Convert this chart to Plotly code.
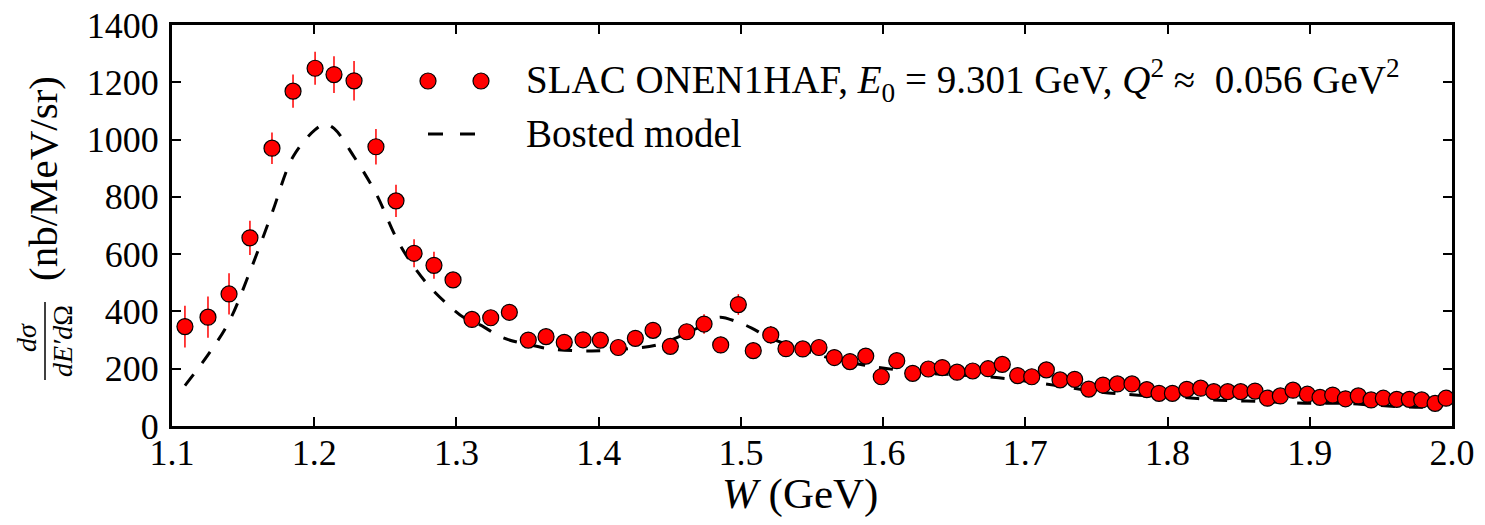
import plotly.graph_objects as go

# SLAC ONEN1HAF data
W_data = [1.1091, 1.1253, 1.1401, 1.1548, 1.1703, 1.1851, 1.2006, 1.2139, 1.2280, 1.2434,
          1.2575, 1.2702, 1.2842, 1.2976, 1.3109, 1.3241, 1.3372, 1.3505, 1.3630, 1.3758,
          1.3890, 1.4012, 1.4138, 1.4258, 1.4382, 1.4504, 1.4619, 1.4741, 1.4858, 1.4982,
          1.5087, 1.5210, 1.5317, 1.5435, 1.5549, 1.5657, 1.5767, 1.5878, 1.5987, 1.6096,
          1.6208, 1.6318, 1.6416, 1.6520, 1.6630, 1.6738, 1.6838, 1.6946, 1.7045, 1.7148,
          1.7244, 1.7347, 1.7446, 1.7546, 1.7647, 1.7750, 1.7854, 1.7940, 1.8034, 1.8135,
          1.8233, 1.8325, 1.8423, 1.8514, 1.8615, 1.8702, 1.8793, 1.8882, 1.8983, 1.9072,
          1.9161, 1.9251, 1.9341, 1.9431, 1.9517, 1.9611, 1.9700, 1.9787, 1.9881, 1.9958]
xs_data = [347, 380, 461, 657, 970, 1169, 1249, 1227, 1205, 975,
           786, 603, 561, 510, 372, 378, 397, 300, 312, 292,
           301, 300, 274, 306, 334, 278, 329, 356, 283, 424,
           263, 318, 270, 269, 274, 239, 225, 244, 172, 228,
           184, 199, 204, 188, 192, 200, 215, 176, 172, 196,
           161, 163, 129, 143, 147, 147, 127, 114, 114, 128,
           132, 120, 120, 120, 122, 97, 105, 125, 111, 100,
           108, 95, 105, 91, 97, 93, 93, 91, 79, 97]
err_data = [73, 72, 72, 60, 55, 58, 58, 64, 69, 62,
            56, 49, 47, 26, 24, 24, 24, 22, 22, 22,
            22, 22, 22, 24, 25, 22, 26, 34, 29, 36,
            29, 31, 22, 20, 20, 19, 19, 19, 18, 18,
            17, 17, 17, 16, 16, 16, 16, 15, 15, 15,
            14, 14, 14, 14, 13, 13, 13, 13, 12, 12,
            12, 12, 12, 12, 12, 11, 11, 11, 11, 11,
            10, 10, 10, 10, 10, 10, 10, 10, 10, 10]

# Bosted model curve
W_model = [1.1091, 1.1253, 1.1401, 1.1548, 1.1703, 1.1851, 1.2005, 1.2076, 1.2139, 1.2280,
           1.2434, 1.2603, 1.2791, 1.2955, 1.3060, 1.3166, 1.3327, 1.3517, 1.3679, 1.3951,
           1.4171, 1.4408, 1.4619, 1.4806, 1.4853, 1.4982, 1.5076, 1.5193, 1.5439, 1.5650,
           1.5861, 1.6096, 1.6330, 1.6541, 1.6775, 1.6998, 1.7221, 1.7455, 1.7666, 1.7891,
           1.8111, 1.8322, 1.8557, 1.8791, 1.9025, 1.9260, 1.9445, 1.9656, 1.9916]
xs_model = [141, 248, 364, 539, 743, 940, 1034, 1054, 1039, 940,
            812, 632, 498, 417, 376, 353, 308, 283, 268, 262,
            268, 283, 324, 370, 380, 362, 342, 310, 265, 234,
            213, 196, 184, 178, 170, 157, 141, 123, 112, 105,
            100, 91, 87, 83, 79, 79, 73, 67, 65]

x_ticks = [1.1, 1.2, 1.3, 1.4, 1.5, 1.6, 1.7, 1.8, 1.9, 2.0]
y_ticks = [0, 200, 400, 600, 800, 1000, 1200, 1400]

legend_data = "SLAC ONEN1HAF, <i>E</i><sub>0</sub> = 9.301 GeV, <i>Q</i><sup>2</sup> \u2248  0.056 GeV<sup>2</sup>"
legend_model = "Bosted model"

FONT = "Liberation Serif, Times New Roman, serif"

fig = go.Figure()

fig.add_trace(go.Scatter(
    x=W_model, y=xs_model, mode="lines", line_shape="spline",
    line=dict(color="black", width=3, dash="14px,14px"),
    showlegend=False, hoverinfo="skip"))

fig.add_trace(go.Scatter(
    x=W_data, y=xs_data, mode="markers",
    marker=dict(color="red", size=16, line=dict(color="black", width=1.2)),
    error_y=dict(type="data", array=err_data, color="red", thickness=1.5, width=0),
    showlegend=False))

axis_common = dict(showline=True, linecolor="black", linewidth=3, mirror="allticks",
                   ticks="inside", ticklen=9, tickwidth=1.5, tickcolor="black",
                   showgrid=False, zeroline=False, ticklabeloverflow="allow",
                   automargin=False,
                   tickfont=dict(family=FONT, size=36, color="black"))

fig.update_xaxes(range=[1.1, 2.0], tickvals=x_ticks,
                 ticktext=["%.1f" % t for t in x_ticks], ticklabelstandoff=-7, **axis_common)
fig.update_yaxes(range=[0, 1400], tickvals=y_ticks, ticklabelstandoff=3, **axis_common)

# page pixel -> paper coords (plot area spans 172..1452 x 25..426 on the page)
def px_x(p):
    return (p - 172) / 1280.0

def px_y(p):
    return (426 - p) / 401.0

# hand-drawn legend (two markers per entry like matplotlib)
for cx in (428, 481):
    fig.add_shape(type="circle", xref="paper", yref="paper", xsizemode="pixel", ysizemode="pixel",
                  xanchor=px_x(cx), yanchor=px_y(81), x0=-8, x1=8, y0=-8, y1=8,
                  fillcolor="red", line=dict(color="black", width=1.2))
fig.add_shape(type="line", xref="paper", yref="paper",
              x0=px_x(428), x1=px_x(476), y0=px_y(134), y1=px_y(134),
              line=dict(color="black", width=3, dash="15px,17px"))

annotations = [
    dict(text=legend_data, x=px_x(524), y=px_y(81), xanchor="left", yanchor="middle",
         font=dict(size=39)),
    dict(text=legend_model, x=px_x(524), y=px_y(134), xanchor="left", yanchor="middle",
         font=dict(size=39)),
    dict(text="<i>W</i> (GeV)", x=px_x(800), y=px_y(494), xanchor="center", yanchor="middle",
         font=dict(size=43)),
    dict(text="(nb/MeV/sr)", x=px_x(43), y=px_y(179), textangle=-90,
         xanchor="center", yanchor="middle", font=dict(size=41)),
    dict(text="<i>d\u03c3</i>", x=px_x(26), y=px_y(338), textangle=-90,
         xanchor="center", yanchor="middle", font=dict(size=28)),
    dict(text="<i>dE\u2032d</i>\u03a9", x=px_x(62), y=px_y(341), textangle=-90,
         xanchor="center", yanchor="middle", font=dict(size=28)),
]
for a in annotations:
    a.update(xref="paper", yref="paper", showarrow=False)
    a["font"].update(family=FONT, color="black")
    fig.add_annotation(**a)

fig.add_shape(type="line", xref="paper", yref="paper",
              x0=px_x(45), x1=px_x(45), y0=px_y(302), y1=px_y(380),
              line=dict(color="black", width=1.5))

# the page has an 8px body margin, so the figure is 16px smaller than the window
fig.update_layout(width=1469, height=509, plot_bgcolor="white", paper_bgcolor="white",
                  margin=dict(l=164, r=25, t=17, b=91),
                  font=dict(family=FONT, color="black"))

fig.write_html("out.html")
